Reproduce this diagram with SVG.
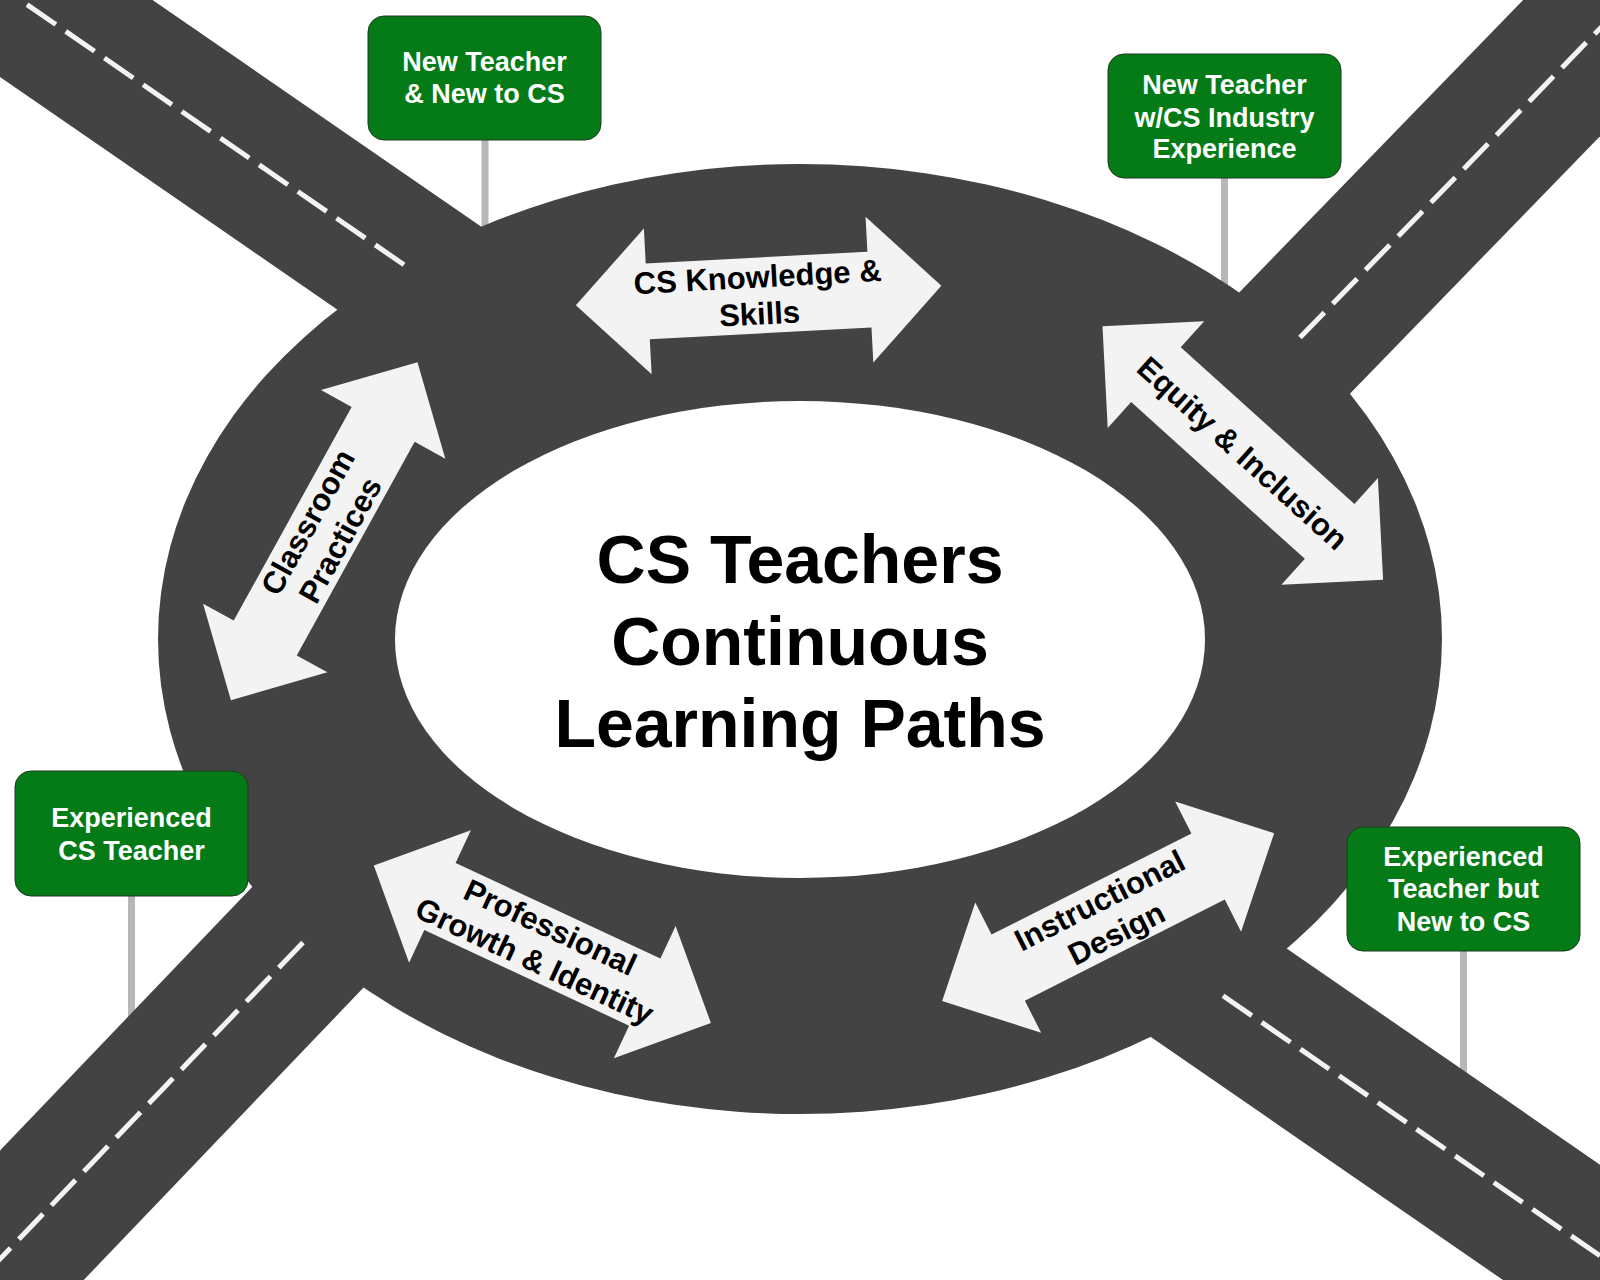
<svg xmlns="http://www.w3.org/2000/svg" width="1600" height="1280" viewBox="0 0 1600 1280">
<style>
.road{stroke:#434343;stroke-width:150;fill:none}
.dash{stroke:#f3f3f3;stroke-width:5;stroke-dasharray:35 12;fill:none}
.post{stroke:#b7b7b7;stroke-width:7}
.sign rect{fill:#047b17;stroke:#1d3b1d;stroke-width:1}
.sign text{fill:#ffffff;font-family:"Liberation Sans",Arial,sans-serif;font-weight:bold;font-size:27px;text-anchor:middle}
.arrow polygon{fill:#f3f3f3}
.arrow text{fill:#000000;font-family:"Liberation Sans",Arial,sans-serif;font-weight:bold;font-size:31px;text-anchor:middle}
.title text{fill:#000000;font-family:"Liberation Sans",Arial,sans-serif;font-weight:bold;font-size:68px;text-anchor:middle}
</style>
<rect x="0" y="0" width="1600" height="1280" fill="#ffffff"/>
<g id="posts">
<line class="post" x1="485" y1="138" x2="485" y2="240"/>
<line class="post" x1="1224.5" y1="176" x2="1224.5" y2="300"/>
<line class="post" x1="131.5" y1="894" x2="131.5" y2="1040"/>
<line class="post" x1="1463.5" y1="949" x2="1463.5" y2="1090"/>
</g>
<g id="roads">
<line class="road" x1="-100" y1="-83" x2="560" y2="372"/>
<line class="road" x1="1700" y1="-74.5" x2="1150" y2="492"/>
<line class="road" x1="-100" y1="1363.5" x2="450" y2="788.75"/>
<line class="road" x1="1700" y1="1324.8" x2="1040" y2="869.4"/>
</g>
<g id="roundabout">
<ellipse cx="800" cy="639" rx="642" ry="475" fill="#434343"/>
<ellipse cx="800" cy="639.5" rx="405" ry="238.5" fill="#ffffff"/>
</g>
<g id="lane-markings">
<line class="dash" x1="404" y1="264.8" x2="-100" y2="-83"/>
<line class="dash" x1="1300" y1="337.5" x2="1700" y2="-74.5"/>
<line class="dash" x1="303" y1="942.4" x2="-100" y2="1363.5"/>
<line class="dash" x1="1223" y1="995.7" x2="1700" y2="1324.8"/>
</g>
<g id="title" class="title">
<text x="800" y="583">CS Teachers</text>
<text x="800" y="665">Continuous</text>
<text x="800" y="747">Learning Paths</text>
</g>
<g id="connectors">
<g id="arrow-cs-knowledge" class="arrow" transform="translate(758.6 295.5) rotate(-3.06)">
<polygon points="-183,0 -111,-73 -111,-38 111,-38 111,-73 183,0 111,73 111,38 -111,38 -111,73"/>
<text x="0" y="-8">CS Knowledge &amp;</text>
<text x="0" y="29">Skills</text>
</g>
<g id="arrow-equity" class="arrow" transform="translate(1242.8 453) rotate(42.07)">
<polygon points="-189,0 -117,-72 -117,-37 117,-37 117,-72 189,0 117,72 117,37 -117,37 -117,72"/>
<text x="0" y="11">Equity &amp; Inclusion</text>
</g>
<g id="arrow-classroom" class="arrow" transform="translate(324.2 531.2) rotate(-61.1)">
<polygon points="-193,0 -122,-71 -122,-36 122,-36 122,-71 193,0 122,71 122,36 -122,36 -122,71"/>
<text x="0" y="-8">Classroom</text>
<text x="0" y="29">Practices</text>
</g>
<g id="arrow-professional" class="arrow" transform="translate(542.35 944.3) rotate(25.03)">
<polygon points="-186,0 -113,-73 -113,-37 113,-37 113,-73 186,0 113,73 113,37 -113,37 -113,73"/>
<text x="0" y="-8">Professional</text>
<text x="0" y="29">Growth &amp; Identity</text>
</g>
<g id="arrow-instructional" class="arrow" transform="translate(1108.15 917.1) rotate(-26.82)">
<polygon points="-186,0 -112,-73 -112,-37 112,-37 112,-73 186,0 112,73 112,37 -112,37 -112,73"/>
<text x="0" y="-8">Instructional</text>
<text x="0" y="29">Design</text>
</g>
</g>
<g id="sign-new-teacher-new-cs" class="sign">
<rect x="368" y="16" width="233" height="124" rx="16"/>
<text x="484.5" y="71">New Teacher</text>
<text x="484.5" y="103">&amp; New to CS</text>
</g>
<g id="sign-new-teacher-industry" class="sign">
<rect x="1108" y="54" width="233" height="124" rx="16"/>
<text x="1224.5" y="94">New Teacher</text>
<text x="1224.5" y="126.5">w/CS Industry</text>
<text x="1224.5" y="158">Experience</text>
</g>
<g id="sign-experienced-cs" class="sign">
<rect x="15" y="771" width="233" height="125" rx="16"/>
<text x="131.5" y="827">Experienced</text>
<text x="131.5" y="859.5">CS Teacher</text>
</g>
<g id="sign-experienced-new-cs" class="sign">
<rect x="1347" y="827" width="233" height="124" rx="16"/>
<text x="1463.5" y="866">Experienced</text>
<text x="1463.5" y="898">Teacher but</text>
<text x="1463.5" y="930.5">New to CS</text>
</g>
</svg>
